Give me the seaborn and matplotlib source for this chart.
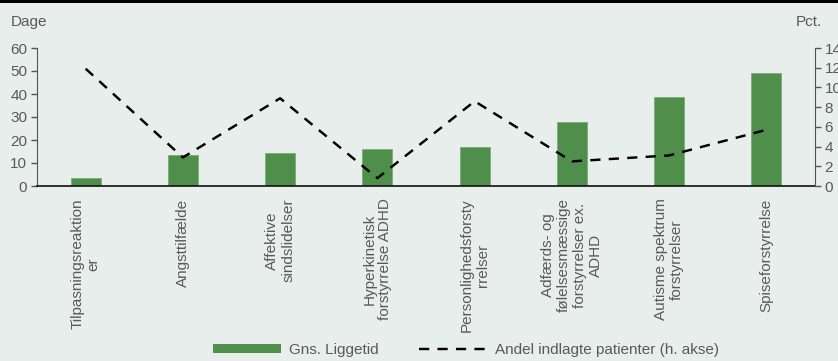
import matplotlib
matplotlib.use("Agg")
import matplotlib.pyplot as plt
from matplotlib.patches import Patch, Rectangle
from matplotlib.lines import Line2D
import numpy as np
import pandas as pd
import seaborn as sns

# Diagnosegrupper og værdier
kategorier = [
    "Tilpasningsreaktion\ner",
    "Angsttilfælde",
    "Affektive\nsindslidelser",
    "Hyperkinetisk\nforstyrrelse ADHD",
    "Personlighedsforsty\nrrelser",
    "Adfærds- og\nfølelsesmæssige\nforstyrrelser ex.\nADHD",
    "Autisme spektrum\nforstyrrelser",
    "Spiseforstyrrelse",
]
liggetid = [3.5, 13.5, 14.5, 16.1, 17.0, 28.0, 38.7, 49.1]      # dage
andel_indlagte = [11.9, 2.9, 8.9, 0.8, 8.6, 2.5, 3.1, 5.7]      # pct.

venstre_ticks = [0, 10, 20, 30, 40, 50, 60]
hoejre_ticks = [0, 2, 4, 6, 8, 10, 12, 14]

bg = "#e8eeeb"
groen = "#4f8f4b"
tekst = "#595959"

sns.set_style("white")
plt.rcParams["font.family"] = ["Liberation Sans", "DejaVu Sans"]
plt.rcParams["font.size"] = 11

df = pd.DataFrame({"kategori": kategorier, "liggetid": liggetid, "andel": andel_indlagte})

fig = plt.figure(figsize=(8.38, 3.61), dpi=100, facecolor=bg)
ax = fig.add_axes([37 / 838, 1 - 186 / 361, (815 - 37) / 838, (186 - 48) / 361])
ax.set_facecolor(bg)
ax2 = ax.twinx()

sns.barplot(data=df, x="kategori", y="liggetid", ax=ax, color=groen,
            width=0.31, saturation=1, errorbar=None,
            edgecolor="#7aab77", linewidth=0.6)
sns.pointplot(data=df, x="kategori", y="andel", ax=ax2, color="black",
              errorbar=None)
for ln in ax2.lines:
    ln.set_marker("")
    ln.set_linewidth(1.75)
    ln.set_dashes((4.2, 3.4))
for coll in list(ax2.collections):
    coll.remove()

n = len(kategorier)
ax.set_xlim(-0.5, n - 0.5)
ax.set_ylim(0, 60)
ax2.set_ylim(0, 14)
ax.set_yticks(venstre_ticks)
ax2.set_yticks(hoejre_ticks)
ax.set_xticks(range(n))
ax.set_xticklabels(kategorier, rotation=90, ha="center", va="top",
                   multialignment="center", color=tekst)
ax.set_xticks(np.arange(n + 1) - 0.5, minor=True)
ax.tick_params(axis="x", which="major", length=0, pad=9)
ax.tick_params(axis="x", which="minor", length=5, width=1, color="#333333",
               direction="out")
ax.tick_params(axis="y", length=4, width=1, color="#555555", direction="out",
               labelcolor=tekst, labelsize=11, pad=3)
ax2.tick_params(axis="y", length=4, width=1, color="#555555", direction="out",
                labelcolor=tekst, labelsize=11, pad=3)
ax.set_xlabel("")
ax.set_ylabel("")
ax2.set_ylabel("")
ax2.set_xlabel("")

for a in (ax, ax2):
    a.spines["top"].set_visible(False)
ax.spines["right"].set_visible(False)
ax2.spines["left"].set_visible(False)
ax2.spines["bottom"].set_visible(False)
ax.spines["left"].set_color("#555555")
ax2.spines["right"].set_color("#555555")
ax.spines["bottom"].set_color("#111111")
ax.spines["bottom"].set_linewidth(1.2)
ax.set_zorder(ax2.get_zorder() - 1)
ax2.patch.set_visible(False)

fig.text(11 / 838, 1 - 22 / 361, "Dage", color=tekst, fontsize=11,
         ha="left", va="center")
fig.text(822 / 838, 1 - 22 / 361, "Pct.", color=tekst, fontsize=11,
         ha="right", va="center")

handles = [Patch(facecolor=groen, edgecolor="none"),
           Line2D([0], [0], color="black", lw=1.75, dashes=(4.2, 3.4))]
labels = ["Gns. Liggetid", "Andel indlagte patienter (h. akse)"]
leg = fig.legend(handles, labels, loc="center", ncol=2, frameon=False,
                 bbox_to_anchor=(466 / 838, 1 - 350 / 361), fontsize=11,
                 handlelength=4.45, handleheight=0.55, handletextpad=0.52,
                 columnspacing=2.7)
for t in leg.get_texts():
    t.set_color(tekst)

fig.patches.append(Rectangle((0, 1 - 3 / 361), 1, 3 / 361, transform=fig.transFigure,
                             facecolor="black", edgecolor="none"))

fig.savefig("out.png", dpi=100, facecolor=bg)
